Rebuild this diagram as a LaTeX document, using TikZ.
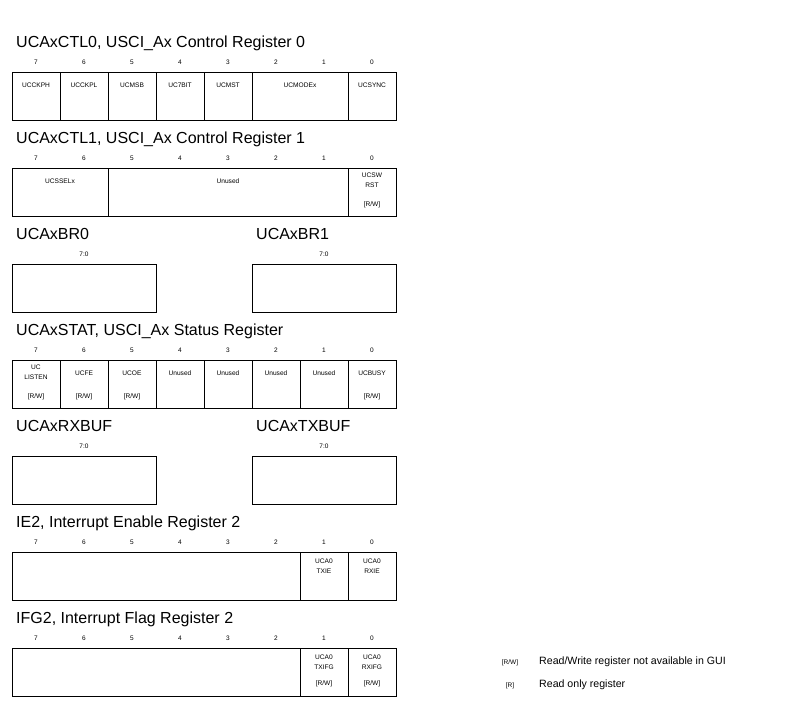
\documentclass[tikz,border=0pt]{standalone}
\usepackage{fontspec}
\setmainfont{Liberation Sans}
\begin{document}
\begin{tikzpicture}[x=1pt,y=-1pt,
  cell/.style={draw=black, line width=0.9pt, minimum height=48pt, inner sep=0pt, anchor=north west},
  ttl/.style={anchor=base west, font=\fontsize{16}{18}\selectfont, inner sep=0pt},
  bit/.style={anchor=base, font=\fontsize{6.5}{7}\selectfont, inner sep=0pt},
  lbl/.style={anchor=base, font=\fontsize{6.6}{7}\selectfont, inner sep=0pt},
  leg/.style={anchor=base west, font=\fontsize{10.6}{12}\selectfont, inner sep=0pt},
  legk/.style={anchor=base, font=\fontsize{6.5}{7}\selectfont, inner sep=0pt}]
\useasboundingbox (0,0) rectangle (792,701);

% ---------- UCAxCTL0 (box top 72)
\node[ttl] (t0) at (16,48) {UCAxCTL0, USCI\_Ax Control Register 0};
\foreach \i in {0,...,7} \node[bit] (a\i) at ({36+48*(7-\i)},64) {\i};
\node[cell, minimum width=48pt] (a7c) at (12,72) {};
\node[cell, minimum width=48pt] (a6c) at (60,72) {};
\node[cell, minimum width=48pt] (a5c) at (108,72) {};
\node[cell, minimum width=48pt] (a4c) at (156,72) {};
\node[cell, minimum width=48pt] (a3c) at (204,72) {};
\node[cell, minimum width=96pt] (a2c) at (252,72) {};
\node[cell, minimum width=48pt] (a0c) at (348,72) {};
\node[lbl] (a7l) at (36,87) {UCCKPH};
\node[lbl] (a6l) at (84,87) {UCCKPL};
\node[lbl] (a5l) at (132,87) {UCMSB};
\node[lbl] (a4l) at (180,87) {UC7BIT};
\node[lbl] (a3l) at (228,87) {UCMST};
\node[lbl] (a2l) at (300,87) {UCMODEx};
\node[lbl] (a0l) at (372,87) {UCSYNC};

% ---------- UCAxCTL1 (box top 168)
\node[ttl] (t1) at (16,143.5) {UCAxCTL1, USCI\_Ax Control Register 1};
\foreach \i in {0,...,7} \node[bit] (b\i) at ({36+48*(7-\i)},160) {\i};
\node[cell, minimum width=96pt] (b7c) at (12,168) {};
\node[cell, minimum width=240pt] (b5c) at (108,168) {};
\node[cell, minimum width=48pt] (b0c) at (348,168) {};
\node[lbl] (b7l) at (60,183.5) {UCSSELx};
\node[lbl] (b5l) at (228,183.5) {Unused};
\node[lbl] (b0l) at (372,177.5) {UCSW};
\node[lbl] (b0m) at (372,187.5) {RST};
\node[lbl] (b0r) at (372,206) {[R/W]};

% ---------- UCAxBR0 / UCAxBR1 (box top 264)
\node[ttl] (t2) at (16,239.5) {UCAxBR0};
\node[bit] (c0) at (84,256) {7:0};
\node[cell, minimum width=144pt] (c0c) at (12,264) {};
\node[ttl] (t3) at (256,239.5) {UCAxBR1};
\node[bit] (d0) at (324,256) {7:0};
\node[cell, minimum width=144pt] (d0c) at (252,264) {};

% ---------- UCAxSTAT (box top 360)
\node[ttl] (t4) at (16,335.5) {UCAxSTAT, USCI\_Ax Status Register};
\foreach \i in {0,...,7} {
  \node[bit] (e\i) at ({36+48*(7-\i)},352) {\i};
  \node[cell, minimum width=48pt] (e\i c) at ({12+48*(7-\i)},360) {};
}
\node[lbl] (e7l) at (36,369.5) {UC};
\node[lbl] (e7m) at (36,379.5) {LISTEN};
\node[lbl] (e7r) at (36,398) {[R/W]};
\node[lbl] (e6l) at (84,375.5) {UCFE};
\node[lbl] (e6r) at (84,398) {[R/W]};
\node[lbl] (e5l) at (132,375.5) {UCOE};
\node[lbl] (e5r) at (132,398) {[R/W]};
\node[lbl] (e4l) at (180,375.5) {Unused};
\node[lbl] (e3l) at (228,375.5) {Unused};
\node[lbl] (e2l) at (276,375.5) {Unused};
\node[lbl] (e1l) at (324,375.5) {Unused};
\node[lbl] (e0l) at (372,375.5) {UCBUSY};
\node[lbl] (e0r) at (372,398) {[R/W]};

% ---------- UCAxRXBUF / UCAxTXBUF (box top 456)
\node[ttl] (t5) at (16,431.5) {UCAxRXBUF};
\node[bit] (f0) at (84,448) {7:0};
\node[cell, minimum width=144pt] (f0c) at (12,456) {};
\node[ttl] (t6) at (256,431.5) {UCAxTXBUF};
\node[bit] (g0) at (324,448) {7:0};
\node[cell, minimum width=144pt] (g0c) at (252,456) {};

% ---------- IE2 (box top 552)
\node[ttl] (t7) at (16,527.5) {IE2, Interrupt Enable Register 2};
\foreach \i in {0,...,7} \node[bit] (h\i) at ({36+48*(7-\i)},544) {\i};
\node[cell, minimum width=288pt] (h7c) at (12,552) {};
\node[cell, minimum width=48pt] (h1c) at (300,552) {};
\node[cell, minimum width=48pt] (h0c) at (348,552) {};
\node[lbl] (h1l) at (324,563) {UCA0};
\node[lbl] (h1m) at (324,573) {TXIE};
\node[lbl] (h0l) at (372,563) {UCA0};
\node[lbl] (h0m) at (372,573) {RXIE};

% ---------- IFG2 (box top 648)
\node[ttl] (t8) at (16,623.5) {IFG2, Interrupt Flag Register 2};
\foreach \i in {0,...,7} \node[bit] (k\i) at ({36+48*(7-\i)},640) {\i};
\node[cell, minimum width=288pt] (k7c) at (12,648) {};
\node[cell, minimum width=48pt] (k1c) at (300,648) {};
\node[cell, minimum width=48pt] (k0c) at (348,648) {};
\node[lbl] (k1l) at (324,659) {UCA0};
\node[lbl] (k1m) at (324,669) {TXIFG};
\node[lbl] (k1r) at (324,685) {[R/W]};
\node[lbl] (k0l) at (372,659) {UCA0};
\node[lbl] (k0m) at (372,669) {RXIFG};
\node[lbl] (k0r) at (372,685) {[R/W]};

% ---------- legend
\node[legk] (l1k) at (510,664) {[R/W]};
\node[leg] (l1t) at (539,664.5) {Read/Write register not available in GUI};
\node[legk] (l2k) at (510,687) {[R]};
\node[leg] (l2t) at (539,687.5) {Read only register};
\end{tikzpicture}
\end{document}
